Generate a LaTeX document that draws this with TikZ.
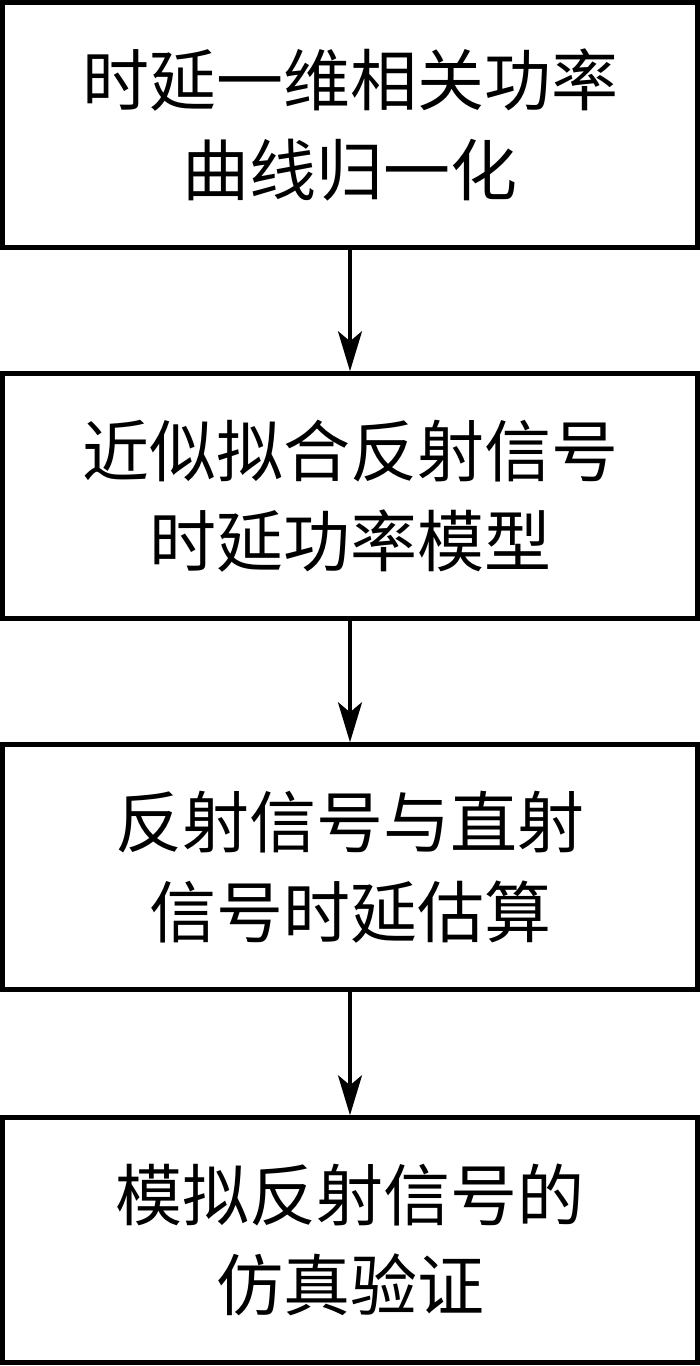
\documentclass[tikz,border=0pt]{standalone}
\usepackage{fontspec}
\newfontfamily\cjk{Noto Sans CJK SC}
\usetikzlibrary{arrows.meta}
\begin{document}
\begin{tikzpicture}[x=1pt,y=-1pt,
  stepbox/.style={draw,line width=4.5pt,minimum width=695pt,minimum height=245pt,inner sep=0pt,
    align=center,font=\cjk\fontsize{67}{90}\selectfont},
  conn/.style={line width=3.5pt,-{Stealth[length=40pt,width=24pt,inset=10pt]}}]
\useasboundingbox (0,0) rectangle (700,1366);
\node[stepbox] (b1) at (350,125) {时延一维相关功率\\曲线归一化};
\node[stepbox] (b2) at (350,496) {近似拟合反射信号\\时延功率模型};
\node[stepbox] (b3) at (350,867) {反射信号与直射\\信号时延估算};
\node[stepbox] (b4) at (350,1240) {模拟反射信号的\\仿真验证};
\draw[conn] (b1.south) -- (b2.north);
\draw[conn] (b2.south) -- (b3.north);
\draw[conn] (b3.south) -- (b4.north);
\end{tikzpicture}
\end{document}
